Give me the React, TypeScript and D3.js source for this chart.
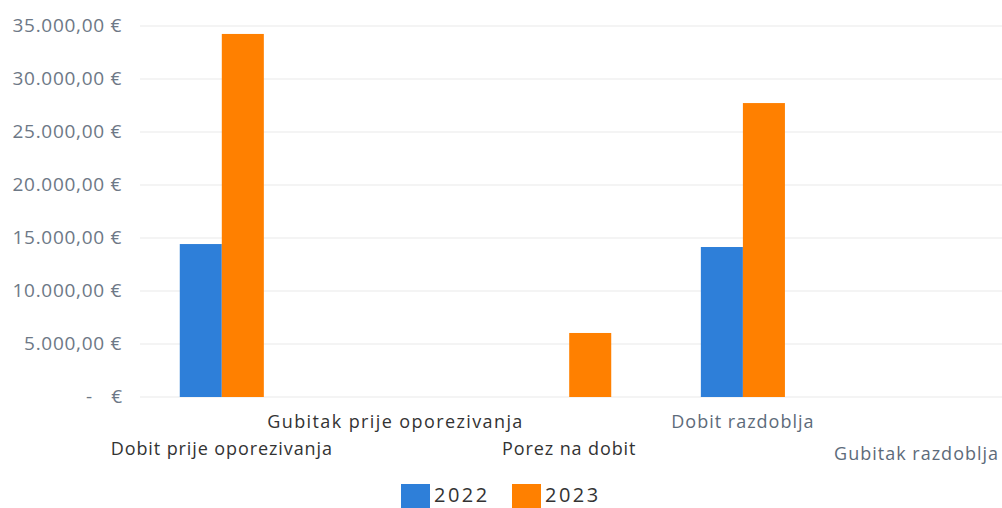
import React from "react";
import * as d3 from "d3";

const categories = [
  "Dobit prije oporezivanja",
  "Gubitak prije oporezivanja",
  "Porez na dobit",
  "Dobit razdoblja",
  "Gubitak razdoblja",
];
const seriesNames = ["2022", "2023"];
const values2022 = [14430, 0, 0, 14150, 0];
const values2023 = [34250, 0, 6040, 27730, 0];
const yTicks = [0, 5000, 10000, 15000, 20000, 25000, 30000, 35000];

const W = 1002;
const H = 508;
const FONT = "'Open Sans', sans-serif";
const colors = ["#2e7fd9", "#ff8000"];

const labelRows = [455, 428, 455, 428, 460];
const labelColors = ["#333", "#333", "#333", "#5d6b7a", "#5d6b7a"];
const labelSpacing = [0.9, 1.4, 0.9, 1.0, 1.0];

const fmt = (v: number) => {
  const s = d3.format(",.2f")(v);
  return s.replace(/,/g, "#").replace(/\./g, ",").replace(/#/g, ".") + " €";
};

export default function App() {
  const x = d3.scaleBand<string>().domain(categories).range([134.95, 1003.45]).padding(0);
  const bw = x.bandwidth();
  const barW = bw * 0.242;
  const y = d3.scaleLinear().domain([0, 35000]).range([397, 26]);
  const data = [values2022, values2023];

  return (
    <svg
      width={W}
      height={H}
      style={{ position: "absolute", left: 0, top: 0, background: "#fff" }}
      fontFamily={FONT}
    >
      {yTicks.map((t) => (
        <g key={t}>
          <line x1={140} x2={1002} y1={y(t)} y2={y(t)} stroke="#f0f0f0" strokeWidth={1.5} />
          {t === 0 ? (
            <>
              <text x={92} y={y(t) + 6} textAnchor="end" fontSize={19} fill="#6d7886">-</text>
              <text x={122} y={y(t) + 6} textAnchor="end" fontSize={19} fill="#6d7886">€</text>
            </>
          ) : (
            <text x={122} y={y(t) + 6} textAnchor="end" fontSize={19} fill="#6d7886" letterSpacing={0.7}>
              {fmt(t)}
            </text>
          )}
        </g>
      ))}
      {categories.map((c, i) => {
        const cx = (x(c) as number) + bw / 2;
        return (
          <g key={c}>
            {data.map((vals, s) => {
              const v = vals[i] ?? 0;
              if (!v) return null;
              const bx = s === 0 ? cx - barW : cx;
              return (
                <rect key={s} x={bx} y={y(v)} width={barW} height={y(0) - y(v)} fill={colors[s]} />
              );
            })}
            <text
              x={cx}
              y={labelRows[i]}
              textAnchor="middle"
              fontSize={18}
              fill={labelColors[i]}
              letterSpacing={labelSpacing[i]}
            >
              {c}
            </text>
          </g>
        );
      })}
      {seriesNames.map((n, i) => {
        const lx = i === 0 ? 401 : 512;
        return (
          <g key={n}>
            <rect x={lx} y={484} width={29} height={30} fill={colors[i]} />
            <text x={lx + 33} y={502} fontSize={20} fill="#333" letterSpacing={2.5}>
              {n}
            </text>
          </g>
        );
      })}
    </svg>
  );
}
